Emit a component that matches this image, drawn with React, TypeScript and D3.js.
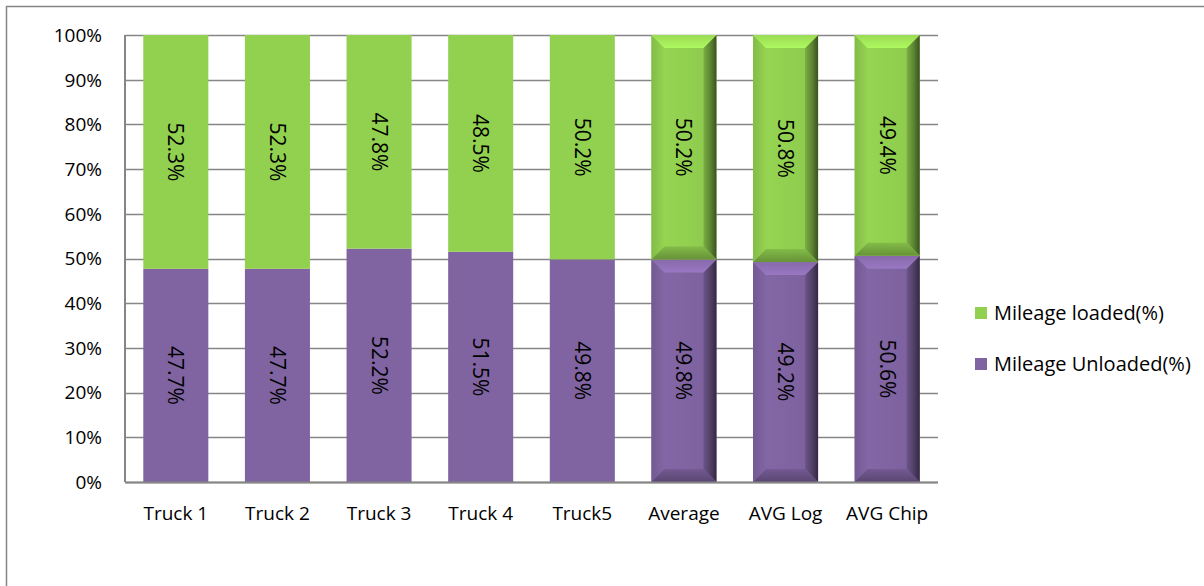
import React from "react";
import * as d3 from "d3";

const categories = ["Truck 1", "Truck 2", "Truck 3", "Truck 4", "Truck5", "Average", "AVG Log", "AVG Chip"];
const loaded = [52.3, 52.3, 47.8, 48.5, 50.2, 50.2, 50.8, 49.4];
const unloaded = [47.7, 47.7, 52.2, 51.5, 49.8, 49.8, 49.2, 50.6];
const beveled = [false, false, false, false, false, true, true, true];
const yTicks = [0, 10, 20, 30, 40, 50, 60, 70, 80, 90, 100];
const seriesNames = ["Mileage loaded(%)", "Mileage Unloaded(%)"];

const W = 1204, H = 586;
const M = { left: 125, right: 938, top: 35, bottom: 482 };
const GREEN = "#92D050";
const PURPLE = "#8064A2";
const FONT = "'Open Sans', 'Noto Sans', sans-serif";

function Bevel({ x, y, w, h, color, id }: { x: number; y: number; w: number; h: number; color: string; id: string }) {
  const b = 13;
  const col = (k: number) => (k >= 0 ? d3.color(color)!.brighter(k) : d3.color(color)!.darker(-k)).formatHex();
  return (
    <g>
      <defs>
        <linearGradient id={id + "r"} x1="0" x2="1" y1="0" y2="0">
          <stop offset="0" stopColor={col(-0.5)} />
          <stop offset="0.55" stopColor={col(-1.3)} />
          <stop offset="1" stopColor={col(-2.6)} />
        </linearGradient>
        <linearGradient id={id + "t"} x1="0" x2="0" y1="0" y2="1">
          <stop offset="0" stopColor={col(0.15)} />
          <stop offset="1" stopColor={col(0.5)} />
        </linearGradient>
        <linearGradient id={id + "b"} x1="0" x2="0" y1="0" y2="1">
          <stop offset="0" stopColor={col(-0.3)} />
          <stop offset="1" stopColor={col(-1.0)} />
        </linearGradient>
        <linearGradient id={id + "l"} x1="0" x2="1" y1="0" y2="0">
          <stop offset="0" stopColor={col(-0.3)} />
          <stop offset="1" stopColor={col(0.05)} />
        </linearGradient>
        <linearGradient id={id + "f"} x1="0" x2="1" y1="0" y2="0">
          <stop offset="0" stopColor={col(0.1)} />
          <stop offset="1" stopColor={col(-0.1)} />
        </linearGradient>
      </defs>
      <rect x={x} y={y} width={w} height={h} fill={`url(#${id}f)`} />
      <polygon points={`${x},${y} ${x + b},${y + b} ${x + b},${y + h - b} ${x},${y + h}`} fill={`url(#${id}l)`} />
      <polygon points={`${x + w},${y} ${x + w - b},${y + b} ${x + w - b},${y + h - b} ${x + w},${y + h}`} fill={`url(#${id}r)`} />
      <polygon points={`${x},${y} ${x + w},${y} ${x + w - b},${y + b} ${x + b},${y + b}`} fill={`url(#${id}t)`} />
      <polygon points={`${x},${y + h} ${x + w},${y + h} ${x + w - b},${y + h - b} ${x + b},${y + h - b}`} fill={`url(#${id}b)`} />
    </g>
  );
}

export default function App() {
  const x = d3.scaleBand<string>().domain(categories).range([M.left, M.right]).paddingInner(0.36).paddingOuter(0.18);
  const y = d3.scaleLinear().domain([0, 100]).range([M.bottom, M.top]);
  const bw = x.bandwidth();

  return (
    <svg width={W} height={H} style={{ position: "absolute", left: 0, top: 0, background: "#fff" }} fontFamily={FONT}>
      <rect x={6.5} y={6.5} width={W + 10} height={H + 10} fill="#fff" stroke="#868686" strokeWidth={1.5} />
      {yTicks.map((t) => (
        <line key={t} x1={M.left} x2={M.right} y1={Math.round(y(t)) + 0.5} y2={Math.round(y(t)) + 0.5} stroke="#868686" strokeWidth={1.3} />
      ))}
      {yTicks.map((t) => (
        <text key={t} x={102} y={y(t)} dy="0.36em" textAnchor="end" fontSize={19} fill="#000">
          {t}%
        </text>
      ))}
      {categories.map((c, i) => {
        const x0 = x(c)!;
        const yb = y(unloaded[i]);
        const els = [];
        if (beveled[i]) {
          els.push(<Bevel key="u" id={`u${i}`} x={x0} y={yb} w={bw} h={y(0) - yb} color={PURPLE} />);
          els.push(<Bevel key="l" id={`l${i}`} x={x0} y={y(100)} w={bw} h={yb - y(100)} color={GREEN} />);
        } else {
          els.push(<rect key="u" x={x0} y={yb} width={bw} height={y(0) - yb} fill={PURPLE} />);
          els.push(<rect key="l" x={x0} y={y(100)} width={bw} height={yb - y(100)} fill={GREEN} />);
        }
        const cx = x0 + bw / 2;
        const cyU = (yb + y(0)) / 2;
        const cyL = (yb + y(100)) / 2;
        els.push(
          <text key="tu" transform={`translate(${cx},${cyU}) rotate(90)`} textAnchor="middle" dy="0.36em" fontSize={21} fill="#000">
            {unloaded[i].toFixed(1)}%
          </text>
        );
        els.push(
          <text key="tl" transform={`translate(${cx},${cyL}) rotate(90)`} textAnchor="middle" dy="0.36em" fontSize={21} fill="#000">
            {loaded[i].toFixed(1)}%
          </text>
        );
        els.push(
          <text key="c" x={cx} y={513} dy="0.36em" textAnchor="middle" fontSize={19} fill="#000">
            {c}
          </text>
        );
        return <g key={c}>{els}</g>;
      })}
      <line x1={M.left} x2={M.left} y1={M.top} y2={M.bottom} stroke="#868686" strokeWidth={2} />
      <line x1={M.left} x2={M.right} y1={M.bottom + 0.5} y2={M.bottom + 0.5} stroke="#868686" strokeWidth={2} />
      {seriesNames.map((s, i) => (
        <g key={s}>
          <rect x={975} y={307 + i * 51} width={12} height={12} fill={i === 0 ? GREEN : PURPLE} />
          <text x={994} y={313 + i * 51} dy="0.36em" fontSize={20} fill="#000">
            {s}
          </text>
        </g>
      ))}
    </svg>
  );
}
